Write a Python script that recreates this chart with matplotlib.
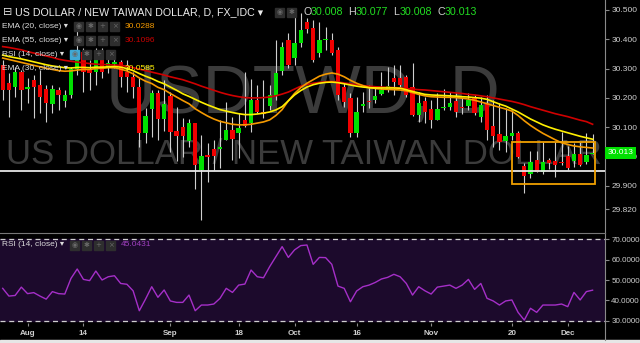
import numpy as np
import pandas as pd
import matplotlib
matplotlib.use("Agg")
import matplotlib.pyplot as plt
from matplotlib.patches import Rectangle
from matplotlib.lines import Line2D

plt.rcParams['font.family'] = ['Liberation Sans', 'DejaVu Sans']

# trading days shown (one day missing in the feed at the end of September)
dates = pd.bdate_range("2017-07-26", "2017-12-07").drop(pd.Timestamp("2017-09-29"))

opens = [30.312, 30.251, 30.237, 30.288, 30.230, 30.261, 30.244, 30.230, 30.179, 30.227,
         30.189, 30.210, 30.299, 30.357, 30.295, 30.288, 30.353, 30.302, 30.316, 30.322,
         30.288, 30.271, 30.237, 30.080, 30.162, 30.217, 30.128, 30.207, 30.087, 30.101,
         30.053, 30.114, 29.954, 30.005, 30.026, 30.026, 30.056, 30.090, 30.080, 30.124,
         30.114, 30.193, 30.152, 30.172, 30.206, 30.292, 30.398, 30.336, 30.387, 30.459,
         30.439, 30.353, 30.396, 30.398, 30.363, 30.237, 30.200, 30.080, 30.174, 30.189,
         30.193, 30.213, 30.227, 30.268, 30.268, 30.271, 30.237, 30.142, 30.189, 30.162,
         30.125, 30.166, 30.169, 30.189, 30.169, 30.172, 30.200, 30.135, 30.183, 30.104,
         30.077, 30.053, 30.070, 30.080, 29.968, 29.940, 29.988, 29.947, 29.988, 29.985,
         29.981, 30.002, 29.985, 30.008, 29.981, 30.008]
highs = [30.329, 30.285, 30.305, 30.295, 30.268, 30.278, 30.295, 30.244, 30.244, 30.237,
         30.227, 30.305, 30.455, 30.370, 30.329, 30.370, 30.370, 30.353, 30.333, 30.329,
         30.329, 30.288, 30.268, 30.166, 30.227, 30.227, 30.261, 30.220, 30.169, 30.131,
         30.128, 30.114, 30.073, 30.046, 30.056, 30.124, 30.186, 30.135, 30.148, 30.288,
         30.264, 30.244, 30.261, 30.244, 30.398, 30.391, 30.422, 30.490, 30.490, 30.473,
         30.466, 30.459, 30.442, 30.422, 30.374, 30.251, 30.217, 30.203, 30.220, 30.244,
         30.237, 30.288, 30.305, 30.312, 30.312, 30.278, 30.319, 30.220, 30.203, 30.193,
         30.217, 30.230, 30.220, 30.220, 30.200, 30.217, 30.210, 30.203, 30.210, 30.193,
         30.183, 30.166, 30.159, 30.087, 29.978, 30.019, 30.019, 30.049, 29.995, 30.049,
         30.083, 30.035, 30.046, 30.049, 30.080, 30.077]
lows = [30.193, 30.135, 30.203, 30.159, 30.183, 30.131, 30.148, 30.118, 30.148, 30.159,
        30.169, 30.200, 30.278, 30.220, 30.227, 30.244, 30.268, 30.285, 30.302, 30.237,
        30.220, 30.200, 30.032, 30.046, 30.066, 30.056, 30.087, 30.015, 29.985, 29.998,
        30.032, 29.890, 29.783, 29.913, 29.954, 29.961, 30.056, 29.988, 29.995, 30.101,
        30.084, 30.148, 30.131, 30.159, 30.193, 30.278, 30.302, 30.312, 30.374, 30.422,
        30.323, 30.340, 30.363, 30.346, 30.193, 30.169, 30.066, 30.066, 30.152, 30.166,
        30.183, 30.210, 30.220, 30.210, 30.237, 30.203, 30.138, 30.118, 30.114, 30.097,
        30.125, 30.159, 30.159, 30.135, 30.145, 30.159, 30.142, 30.118, 30.056, 30.032,
        30.022, 30.015, 30.056, 29.995, 29.876, 29.927, 29.947, 29.940, 29.957, 29.930,
        29.971, 29.954, 29.964, 29.968, 29.975, 30.008]
closes = [30.227, 30.227, 30.288, 30.227, 30.237, 30.237, 30.203, 30.183, 30.230, 30.210,
          30.210, 30.299, 30.357, 30.288, 30.285, 30.353, 30.288, 30.319, 30.322, 30.271,
          30.271, 30.237, 30.080, 30.138, 30.217, 30.128, 30.179, 30.084, 30.070, 30.070,
          30.114, 29.971, 30.002, 29.998, 30.002, 30.032, 30.090, 30.060, 30.097, 30.104,
          30.193, 30.152, 30.145, 30.210, 30.285, 30.374, 30.312, 30.387, 30.432, 30.435,
          30.329, 30.398, 30.398, 30.353, 30.210, 30.186, 30.080, 30.152, 30.176, 30.186,
          30.206, 30.227, 30.241, 30.254, 30.244, 30.210, 30.142, 30.183, 30.152, 30.125,
          30.162, 30.169, 30.183, 30.152, 30.166, 30.193, 30.148, 30.176, 30.090, 30.070,
          30.049, 30.070, 30.080, 29.998, 29.934, 29.981, 29.947, 29.981, 29.978, 29.971,
          29.978, 29.961, 30.008, 29.971, 30.005, 30.013]

ema20 = [30.336, 30.331, 30.326, 30.321, 30.316, 30.311, 30.306, 30.301, 30.297, 30.293,
         30.291, 30.292, 30.295, 30.297, 30.297, 30.300, 30.301, 30.303, 30.303, 30.298,
         30.292, 30.282, 30.268, 30.257, 30.249, 30.236, 30.228, 30.215, 30.203, 30.191,
         30.180, 30.163, 30.150, 30.138, 30.128, 30.120, 30.115, 30.110, 30.108, 30.108,
         30.110, 30.114, 30.118, 30.125, 30.140, 30.160, 30.190, 30.215, 30.235, 30.250,
         30.262, 30.274, 30.281, 30.285, 30.281, 30.272, 30.260, 30.250, 30.242, 30.235,
         30.232, 30.230, 30.229, 30.228, 30.227, 30.224, 30.218, 30.212, 30.207, 30.204,
         30.203, 30.202, 30.202, 30.201, 30.199, 30.196, 30.192, 30.186, 30.180, 30.174,
         30.168, 30.162, 30.155, 30.140, 30.122, 30.106, 30.092, 30.079, 30.068, 30.057,
         30.047, 30.041, 30.036, 30.033, 30.031, 30.029]
ema30 = [30.346, 30.341, 30.337, 30.333, 30.328, 30.323, 30.318, 30.313, 30.309, 30.306,
         30.303, 30.302, 30.304, 30.304, 30.303, 30.305, 30.305, 30.306, 30.307, 30.305,
         30.300, 30.293, 30.283, 30.274, 30.266, 30.256, 30.248, 30.237, 30.226, 30.214,
         30.205, 30.195, 30.185, 30.176, 30.168, 30.160, 30.155, 30.150, 30.146, 30.143,
         30.143, 30.145, 30.148, 30.152, 30.159, 30.170, 30.190, 30.210, 30.225, 30.237,
         30.245, 30.250, 30.253, 30.254, 30.252, 30.248, 30.244, 30.240, 30.237, 30.235,
         30.234, 30.234, 30.234, 30.234, 30.233, 30.228, 30.222, 30.217, 30.212, 30.210,
         30.209, 30.208, 30.207, 30.206, 30.204, 30.203, 30.201, 30.199, 30.195, 30.187,
         30.179, 30.172, 30.162, 30.152, 30.140, 30.128, 30.118, 30.108, 30.100, 30.093,
         30.087, 30.081, 30.075, 30.069, 30.064, 30.059]
ema55 = [30.375, 30.372, 30.368, 30.364, 30.358, 30.353, 30.348, 30.343, 30.338, 30.332,
         30.328, 30.325, 30.322, 30.320, 30.317, 30.315, 30.314, 30.313, 30.312, 30.311,
         30.308, 30.303, 30.298, 30.293, 30.288, 30.283, 30.278, 30.272, 30.267, 30.262,
         30.255, 30.248, 30.240, 30.233, 30.226, 30.219, 30.213, 30.208, 30.204, 30.201,
         30.200, 30.200, 30.201, 30.203, 30.207, 30.213, 30.220, 30.230, 30.240, 30.246,
         30.250, 30.253, 30.255, 30.256, 30.254, 30.251, 30.248, 30.245, 30.242, 30.240,
         30.238, 30.237, 30.236, 30.235, 30.234, 30.232, 30.230, 30.228, 30.227, 30.225,
         30.223, 30.221, 30.219, 30.217, 30.215, 30.212, 30.210, 30.207, 30.204, 30.200,
         30.196, 30.192, 30.188, 30.183, 30.177, 30.170, 30.164, 30.158, 30.152, 30.146,
         30.141, 30.136, 30.130, 30.124, 30.119, 30.110]

rsi = [45.9, 42.1, 42.4, 46.5, 43.3, 43.8, 42.1, 40.6, 44.3, 43.3,
       43.1, 50.8, 55.4, 50.3, 49.7, 54.4, 50.0, 51.6, 52.1, 48.3,
       47.9, 44.7, 34.9, 40.6, 46.7, 41.5, 45.1, 39.7, 39.0, 39.0,
       42.6, 34.9, 37.7, 37.7, 38.2, 41.0, 45.9, 43.9, 47.5, 48.0,
       54.9, 51.6, 51.1, 56.6, 61.5, 66.4, 61.1, 64.8, 66.9, 67.2,
       57.7, 61.1, 61.0, 57.7, 47.0, 45.9, 39.3, 44.6, 46.7, 47.5,
       48.8, 50.5, 51.3, 52.8, 51.6, 48.3, 42.6, 46.7, 44.7, 43.1,
       46.5, 47.0, 47.5, 45.9, 47.5, 50.3, 45.4, 48.3, 41.0, 39.7,
       37.7, 39.7, 40.2, 34.1, 30.3, 36.1, 34.1, 37.7, 37.7, 37.7,
       38.2, 36.9, 43.9, 40.2, 44.3, 45.0]

tick_dates = ["2017-08-01", "2017-08-14", "2017-09-01", "2017-09-18", "2017-10-02",
              "2017-10-16", "2017-11-01", "2017-11-20", "2017-12-01"]
tick_labels = ["Aug", "14", "Sep", "18", "Oct", "16", "Nov", "20", "Dec"]
price_ticks = [29.82, 29.9, 30.0, 30.1, 30.2, 30.3, 30.4, 30.5]
rsi_ticks = [30, 40, 50, 60, 70]

support = 29.95
box_start, box_end = "2017-11-20", "2017-12-07"
box_low, box_high = 29.906, 30.049

W, H = 640, 343
GREEN, RED = '#00e000', '#f00000'
AXIS = '#8a8a8a'
LABEL = '#cfcfcf'

o = np.array(opens)
c = np.array(closes)
x = np.arange(len(dates))
pos = {d: i for i, d in enumerate(dates)}

fig = plt.figure(figsize=(W / 100, H / 100), dpi=100, facecolor='black')
ax = fig.add_axes([0, 110 / H, 605 / W, 233 / H], facecolor='black')
rax = fig.add_axes([0, 20 / H, 605 / W, 90 / H], facecolor='black', sharex=ax)

# watermark
ax.text(0.5, 0.592, "USDTWD, D", transform=ax.transAxes, ha='center', va='center',
        fontsize=50, color='#3b3b3b', zorder=0)
ax.text(0.502, 0.335, "US DOLLAR / NEW TAIWAN DOLLAR", transform=ax.transAxes,
        ha='center', va='center', fontsize=25, color='#3b3b3b', zorder=0)

# candles
up = c >= o
colors = np.where(up, GREEN, RED)
body_low = np.minimum(o, c)
body_h = np.maximum(np.abs(c - o), 0.004)
ax.vlines(x, lows, highs, color='#cfcfcf', lw=0.8, zorder=2)
ax.bar(x, body_h, bottom=body_low, width=0.7, color=colors, zorder=3)

ax.plot(x, ema55, color='#d00000', lw=1.2, zorder=4)
ax.plot(x, ema20, color='#f59a00', lw=1.2, zorder=4)
ax.plot(x, ema30, color='#fff000', lw=1.2, zorder=4)

ax.axhline(support, color='#e6e6e6', lw=1.3, zorder=5)
bx0, bx1 = pos[pd.Timestamp(box_start)], pos[pd.Timestamp(box_end)] + 0.4
ax.add_patch(Rectangle((bx0, box_low), bx1 - bx0, box_high - box_low, fill=False,
                       edgecolor='#f0a000', lw=1.3, zorder=6))

ax.set_xlim(-0.435, 97.0)
ax.set_ylim(29.739, 30.534)
ax.yaxis.tick_right()
ax.set_yticks(price_ticks)
ax.set_yticklabels(["%.3f" % v for v in price_ticks])
ax.tick_params(axis='y', colors=AXIS, labelcolor=LABEL, labelsize=6, length=3, pad=1.5)
ax.tick_params(axis='x', bottom=False, labelbottom=False)
for s in ['top', 'left', 'bottom']:
    ax.spines[s].set_visible(False)
ax.spines['right'].set_color(AXIS)

# last price tag
ax.text(1.004, closes[-1], "%.3f" % closes[-1], transform=ax.get_yaxis_transform(),
        ha='left', va='center', fontsize=6, color='white', clip_on=False, zorder=10,
        bbox=dict(boxstyle='square,pad=0.3', facecolor=GREEN, edgecolor='none'))

# RSI panel
rax.axhspan(30, 70, color='#1c0a2c', zorder=0)
rax.axhline(70, color='#cfcfcf', lw=0.9, ls=(0, (4, 3)), zorder=1)
rax.axhline(30, color='#cfcfcf', lw=0.9, ls=(0, (4, 3)), zorder=1)
rax.plot(x, rsi, color='#a52fc8', lw=1.0, zorder=2)
rax.set_ylim(28.87, 73.1)
rax.yaxis.tick_right()
rax.set_yticks(rsi_ticks)
rax.set_yticklabels(["%.4f" % v for v in rsi_ticks])
rax.tick_params(axis='y', colors=AXIS, labelcolor=LABEL, labelsize=5.8, length=3, pad=1.5)
rax.set_xticks([pos[pd.Timestamp(d)] for d in tick_dates])
rax.set_xticklabels(tick_labels, fontweight='bold')
rax.tick_params(axis='x', colors=AXIS, labelcolor=LABEL, labelsize=5.8, length=2, pad=3)
for s in ['left', 'bottom']:
    rax.spines[s].set_visible(False)
rax.spines['top'].set_color('#777777')
rax.spines['right'].set_color(AXIS)

fig.add_artist(Line2D([605 / W, 605 / W], [3 / H, 20 / H], color=AXIS, lw=0.8,
                      transform=fig.transFigure))
fig.add_artist(Rectangle((0, 0), 1, 3 / H, color='#e6e6e6', transform=fig.transFigure))


def fpos(px, py):
    return px / W, 1 - py / H


def icons(px, py, n, first=None):
    syms = ['◉', '✱', '+', '×']
    for k in range(n):
        x0 = px + 12 * k
        col = first if (k == 0 and first) else '#2e2e2e'
        fig.add_artist(Rectangle(fpos(x0, py + 4.5), 9 / W, 9 / H, color=col,
                                 transform=fig.transFigure, zorder=8))
        fig.text(*fpos(x0 + 4.5, py), syms[k], fontsize=5, color='#6a6a6a',
                 ha='center', va='center', family=['DejaVu Sans'], zorder=9)


fig.text(*fpos(3, 12), "⊟", fontsize=8, color='#e0e0e0', va='center', family=['DejaVu Sans'])
fig.text(*fpos(15, 12), "US DOLLAR / NEW TAIWAN DOLLAR, D, FX_IDC ▾", fontsize=7.7,
         color='#ececec', va='center')
icons(275, 12, 2)
for lx, t, col in [(303, "O", LABEL), (311, "%.3f" % opens[-1], '#22dd22'),
                   (348, "H", LABEL), (356, "%.3f" % highs[-1], '#22dd22'),
                   (393, "L", LABEL), (400, "%.3f" % lows[-1], '#22dd22'),
                   (437, "C", LABEL), (445, "%.3f" % closes[-1], '#22dd22')]:
    fig.text(*fpos(lx, 12), t, fontsize=7.7, color=col, va='center')

legend_rows = [(26, "EMA (20, close) ▾", "30.0288", '#f59a00', 74, None),
               (40, "EMA (55, close) ▾", "30.1096", '#cc0000', 74, None),
               (54, "RSI (14, close) ▾", "", None, 70, '#3fa9d6'),
               (68, "EMA (30, close) ▾", "30.0585", '#fff000', 0, None)]
for ly, name, val, col, ix, hl in legend_rows:
    fig.text(*fpos(2, ly), name, fontsize=6, color='#dcdcdc', va='center')
    if ix:
        icons(ix, ly, 4, hl)
    if val:
        fig.text(*fpos(125, ly), val, fontsize=6, color=col, va='center')

fig.text(*fpos(2, 245), "RSI (14, close) ▾", fontsize=6, color='#dcdcdc', va='center')
icons(70, 245, 4)
fig.text(*fpos(121, 245), "45.0431", fontsize=6, color='#a040c0', va='center')

fig.savefig("out.png", dpi=100, facecolor='black')
